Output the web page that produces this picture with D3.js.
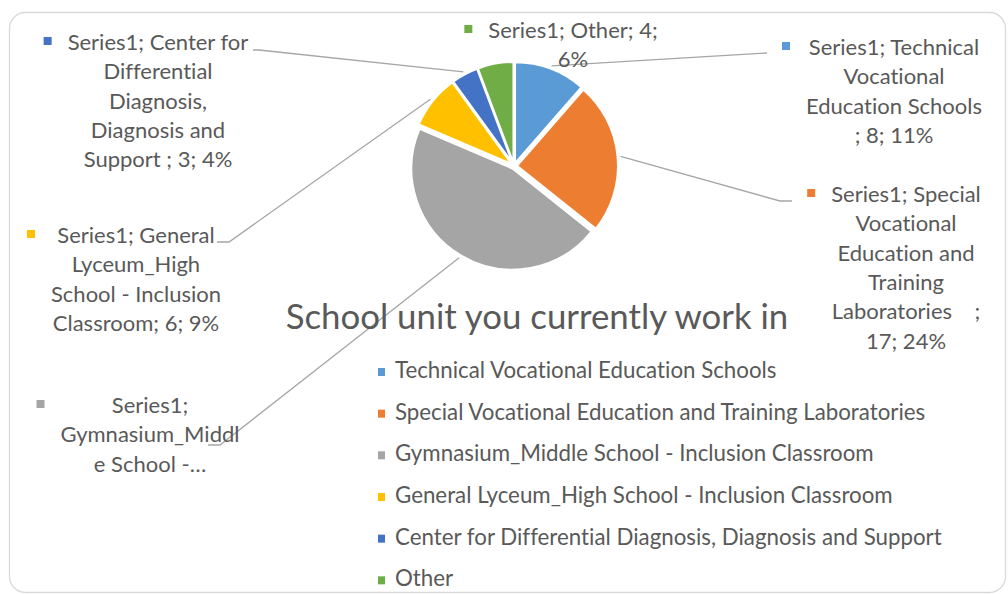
<!DOCTYPE html>
<html>
<head>
<meta charset="utf-8">
<script src="https://cdn.jsdelivr.net/npm/d3@7"></script>
<style>
  body { margin: 0; background: #fff; }
  svg { display: block; }
  text { font-family: Lato, "Open Sans", sans-serif; fill: #595959; font-variant-ligatures: none; }
</style>
</head>
<body>
<div id="chart"></div>
<script>
// chart data
const categories = [
  "Technical Vocational Education Schools",
  "Special Vocational Education and Training Laboratories",
  "Gymnasium_Middle School - Inclusion Classroom",
  "General Lyceum_High School - Inclusion Classroom",
  "Center for Differential Diagnosis, Diagnosis and Support",
  "Other"
];
const values = [8, 17, 32, 6, 3, 4];
const colors = ["#5B9BD5", "#ED7D31", "#A5A5A5", "#FFC000", "#4472C4", "#70AD47"];
const title = "School unit you currently work in";
// data label text, wrapped the way the original shows it; {v} = value, {p} = percent
const labelLines = [
  ["Series1; Technical", "Vocational", "Education Schools", "; {v}; {p}"],
  ["Series1; Special", "Vocational", "Education and", "Training", "Laboratories    ;", "{v}; {p}"],
  ["Series1;", "Gymnasium_Middl", "e School -\u2026"],
  ["Series1; General", "Lyceum_High", "School - Inclusion", "Classroom; {v}; {p}"],
  ["Series1; Center for", "Differential", "Diagnosis,", "Diagnosis and", "Support ; {v}; {p}"],
  ["Series1; Other; {v};", "{p}"]
];

// layout of the data labels (text centre, first baseline, leader end points)
const labelPos = [
  { x: 894, y: 55,  pts: [[767, 53]] },
  { x: 906, y: 202, pts: [[780, 201], [792, 201]] },
  { x: 150, y: 413, pts: [[220, 445], [208, 445]] },
  { x: 136, y: 243, pts: [[229, 242], [217, 242]] },
  { x: 158, y: 50,  pts: [[259, 50], [253, 50]] },
  { x: 573, y: 38,  pts: null }
];

const width = 1008, height = 594;
const cx = 514, cy = 166, radius = 101, explode = 3;
const lineH = 29.3;

const svg = d3.select("#chart").append("svg")
  .attr("width", width)
  .attr("height", height);

// chart border
svg.append("rect")
  .attr("x", 9.5).attr("y", 12.5)
  .attr("width", 996).attr("height", 580)
  .attr("rx", 16)
  .attr("fill", "#fff")
  .attr("stroke", "#d9d9d9")
  .attr("stroke-width", 1.3);

const total = d3.sum(values);
const pct = d3.format(".0%");
const data = categories.map((c, i) => ({ name: c, value: values[i], color: colors[i], i: i }));

const pie = d3.pie().sort(null).value(d => d.value);
const arcs = pie(data);
const arc = d3.arc().innerRadius(0).outerRadius(radius);

const g = svg.append("g").attr("transform", "translate(" + cx + "," + cy + ")");

// slices, pulled out a little
g.selectAll("path.slice")
  .data(arcs)
  .enter().append("path")
  .attr("class", "slice")
  .attr("d", arc)
  .attr("transform", function(d) {
    const a = (d.startAngle + d.endAngle) / 2;
    return "translate(" + (Math.sin(a) * explode) + "," + (-Math.cos(a) * explode) + ")";
  })
  .attr("fill", d => d.data.color)
  .attr("stroke", "#fff")
  .attr("stroke-width", 2);

// leader lines
const outer = d3.arc().innerRadius(radius + explode + 3).outerRadius(radius + explode + 3);
svg.selectAll("path.leader")
  .data(arcs.filter(d => labelPos[d.index].pts))
  .enter().append("path")
  .attr("class", "leader")
  .attr("d", function(d) {
    const c = outer.centroid(d);
    const pts = [[cx + c[0], cy + c[1]]].concat(labelPos[d.index].pts);
    return d3.line()(pts);
  })
  .attr("fill", "none")
  .attr("stroke", "#a6a6a6")
  .attr("stroke-width", 1.3);

// data labels
arcs.forEach(function(d) {
  const pos = labelPos[d.index];
  const lab = svg.append("g").attr("class", "label");
  const lines = labelLines[d.index].map(s =>
    s.replace("{v}", d.data.value).replace("{p}", pct(d.data.value / total)));
  const t = lab.selectAll("text")
    .data(lines)
    .enter().append("text")
    .attr("x", pos.x)
    .attr("y", (s, k) => pos.y + k * lineH)
    .attr("text-anchor", "middle")
    .style("font-size", "22px")
    .style("white-space", "pre")
    .text(s => s);
  let maxW = 0;
  t.each(function() { maxW = Math.max(maxW, this.getComputedTextLength()); });
  lab.append("rect")
    .attr("x", pos.x - maxW / 2 - 24)
    .attr("y", pos.y - 13)
    .attr("width", 8).attr("height", 8)
    .attr("fill", d.data.color);
});

// title
svg.append("text")
  .attr("x", 537)
  .attr("y", 329)
  .attr("text-anchor", "middle")
  .style("font-size", "34.8px")
  .text(title);

// legend
const ly = d3.scaleBand().domain(categories).range([357, 607]);
const legend = svg.selectAll("g.legend")
  .data(data)
  .enter().append("g")
  .attr("class", "legend")
  .attr("transform", d => "translate(378," + ly(d.name) + ")");
legend.append("rect")
  .attr("x", 0).attr("y", 11)
  .attr("width", 7).attr("height", 8)
  .attr("fill", d => d.color);
legend.append("text")
  .attr("x", 17)
  .attr("y", 21)
  .style("font-size", "22.3px")
  .text(d => d.name);
</script>
</body>
</html>
